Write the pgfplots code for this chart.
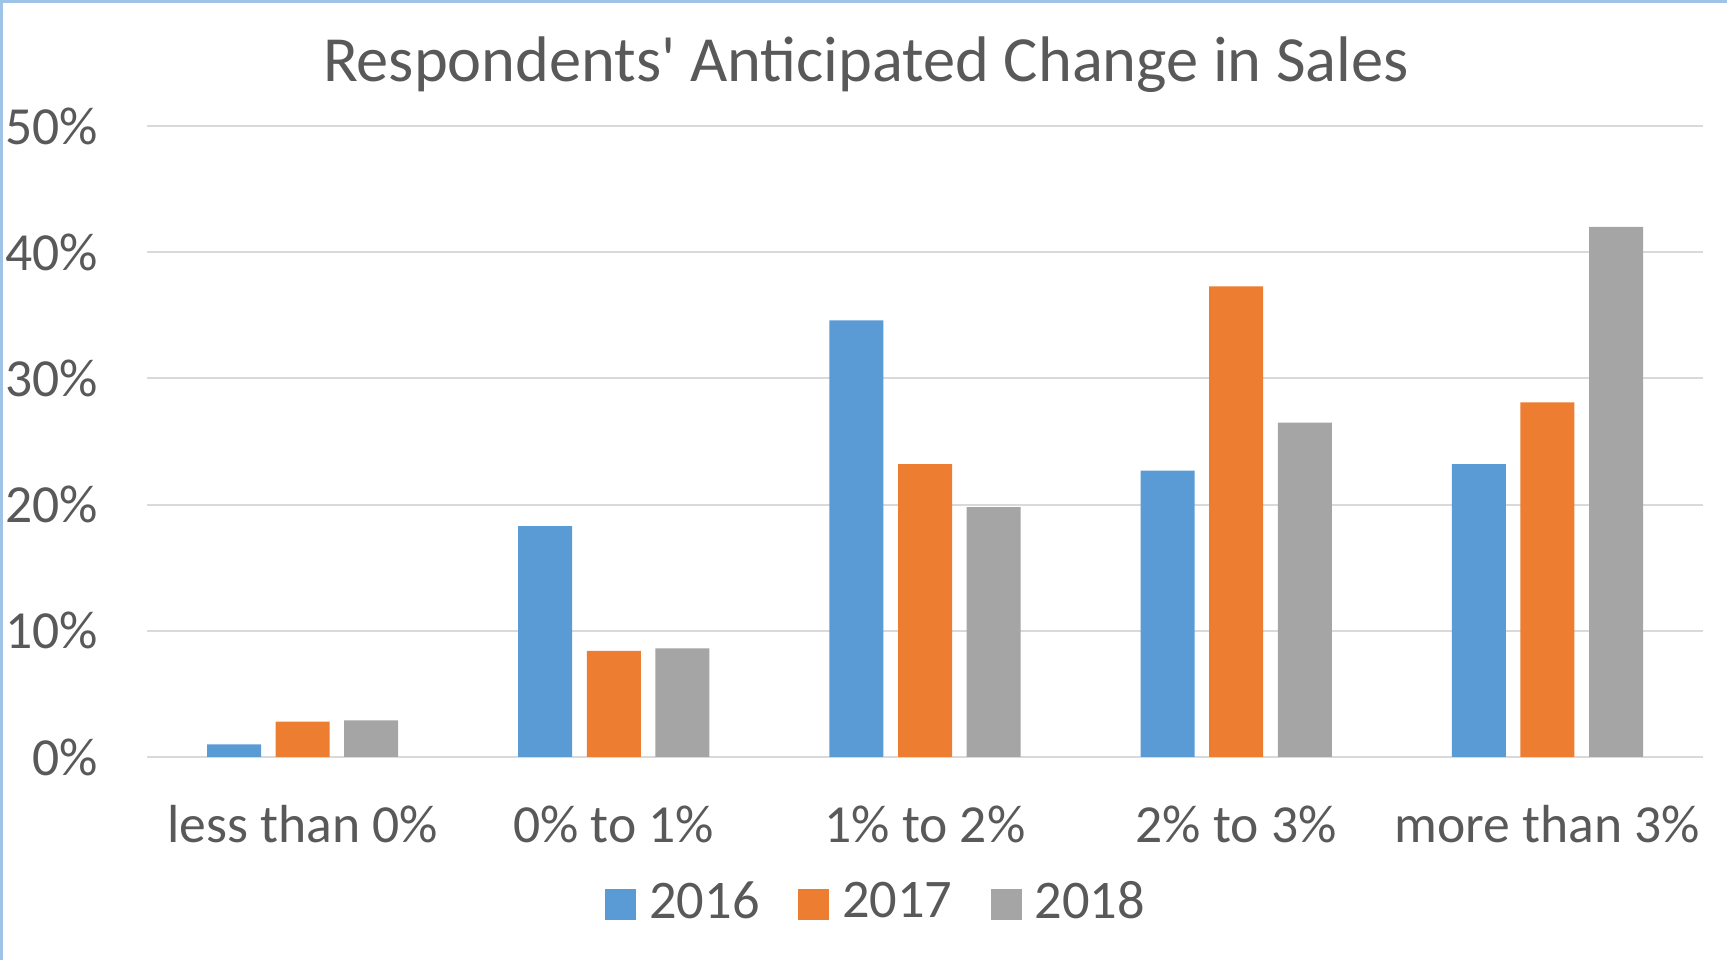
\documentclass[border=0pt]{standalone}
\usepackage{fontspec}
\setmainfont{Carlito}
\usepackage{pgfplots}
\pgfplotsset{compat=1.18}
\usepackage{pgfplotstable}

\definecolor{c16}{HTML}{5B9BD5}
\definecolor{c17}{HTML}{ED7D31}
\definecolor{c18}{HTML}{A5A5A5}
\definecolor{textgray}{HTML}{595959}
\definecolor{gridgray}{HTML}{D9D9D9}
\definecolor{framecol}{HTML}{9DC3E6}

% share of respondents, in percent
\pgfplotstableread{
x  y16   y17   y18
0  1.0   2.8   2.9
1  18.3  8.4   8.6
2  34.6  23.2  19.8
3  22.7  37.3  26.5
4  23.2  28.1  42.0
}\salestable

\begin{document}
\begin{tikzpicture}
\path[use as bounding box] (-36.75pt,-50.75pt) rectangle (395pt,189.25pt);
\begin{axis}[
  scale only axis,
  width=389pt, height=157.75pt,
  ybar=3.65pt, bar width=13.5pt,
  xmin=-0.5, xmax=4.5, ymin=0, ymax=50,
  xtick={0,...,4},
  xticklabels={less than 0\%, 0\% to 1\%, 1\% to 2\%, 2\% to 3\%, more than 3\%},
  ytick={0,10,...,50},
  yticklabels={0\%,10\%,20\%,30\%,40\%,50\%},
  ymajorgrids,
  grid style={line width=0.5pt, color=gridgray},
  axis line style={draw=none},
  major tick length=0pt,
  tick label style={font=\fontsize{13.4}{16}\selectfont, text=textgray},
  yticklabel style={anchor=east, inner sep=0pt, xshift=-12pt},
  xticklabel style={anchor=base, inner sep=0pt, yshift=-21.4pt},
  legend style={at={(0.468,-0.231)}, anchor=center, draw=none,
    font=\fontsize{13.6}{16}\selectfont, text=textgray,
    legend columns=3,
    nodes={inner sep=0pt},
    /tikz/every odd column/.append style={column sep=3.3pt},
    /tikz/every even column/.append style={column sep=9.6pt}},
  legend image code/.code={\fill[#1] (0pt,-4.2pt) rectangle (7.7pt,3.5pt);},
]
\addplot[fill=c16, draw=none] table[x=x, y=y16] {\salestable};
\addplot[fill=c17, draw=none] table[x=x, y=y17] {\salestable};
\addplot[fill=c18, draw=none] table[x=x, y=y18] {\salestable};
\legend{2016, 2017, 2018}
\end{axis}
\node[anchor=base, font=\fontsize{16.1}{19}\selectfont, text=textgray]
  at (179.75pt,168.75pt) {Respondents\textquotesingle\ Anticipated Change in Sales};
\draw[framecol, line width=0.75pt] (-36.375pt,-50.75pt) -- (-36.375pt,188.875pt) -- (395pt,188.875pt);
\end{tikzpicture}
\end{document}
